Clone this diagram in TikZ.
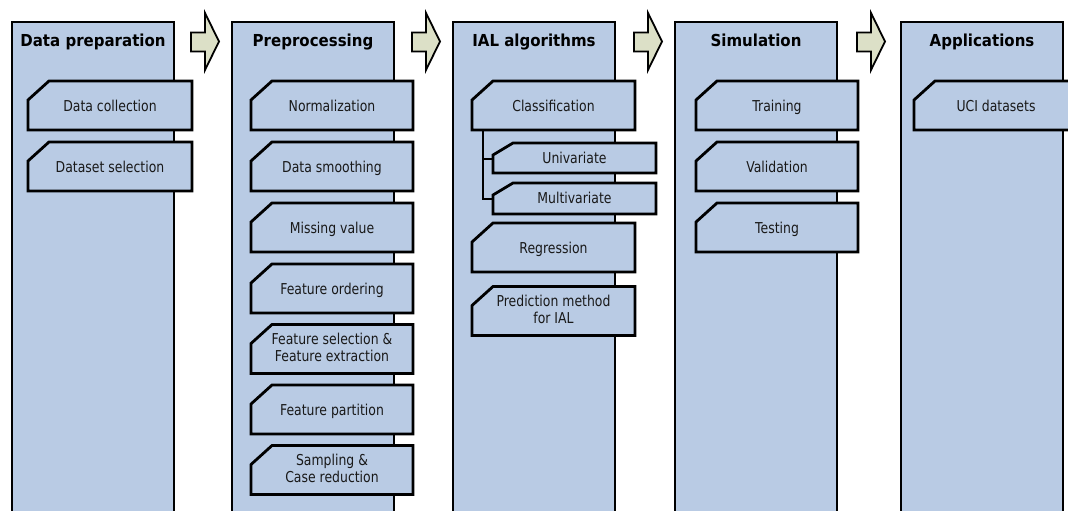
\documentclass[tikz,border=0pt]{standalone}
\usepackage{fontspec}
\setmainfont{DejaVu Sans}[FakeStretch=0.83]
\newfontfamily\headfont{DejaVu Sans}[FakeStretch=0.91]

\definecolor{panelblue}{RGB}{185,203,228}
\definecolor{flowgreen}{RGB}{220,224,199}
\definecolor{inktext}{RGB}{25,25,25}

\tikzset{
  panel/.style={draw=black, line width=2.8pt, fill=panelblue},
  itembox/.style={draw=black, line width=2.8pt, fill=panelblue, line join=miter},
  itemtext/.style={font=\fontsize{15}{17}\selectfont, text=inktext, align=center, inner sep=0pt},
  headtext/.style={font=\headfont\bfseries\fontsize{16.5}{19}\selectfont, anchor=base, inner sep=0pt},
  flow/.style={draw=black, line width=1.8pt, fill=flowgreen, line join=miter},
  branch/.style={draw=black, line width=2pt},
}

% stage column: name, left x, title
\newcommand\stagecol[3]{%
  \path[panel] (#2,22) rectangle ++(162,520);
  \node[headtext] (#1) at (#2+81,47) {#3};
}

% item box with a cut top-left corner:
% [node options], name, left, top, width, height, cut x, cut y, text
\newcommand\chambox[9][anchor=base,yshift=-5.5pt]{%
  \path[itembox] (#3,#4+#8) -- (#3+#7,#4) -- (#3+#5,#4) -- (#3+#5,#4+#6)
    -- (#3,#4+#6) -- cycle;
  \node[itemtext,#1] (#2) at (#3+#5/2,#4+#6/2) {#9};
}

% block arrow between stages: name, left x
\newcommand\flowarrow[2]{%
  \path[flow] (#2,32.5) -- (#2+14,32.5) -- (#2+14,13) -- (#2+28,41.5)
    -- (#2+14,70) -- (#2+14,51.5) -- (#2,51.5) -- cycle;
  \coordinate (#1) at (#2+14,41.5);
}

\begin{document}
\begin{tikzpicture}[x=1pt,y=-1pt]
  \useasboundingbox (0,0) rectangle (1068,511);
  \clip (0,0) rectangle (1068,511);

  % stage columns
  \stagecol{prep}{12}{Data preparation}
  \stagecol{pre}{232}{Preprocessing}
  \stagecol{alg}{453}{IAL algorithms}
  \stagecol{sim}{675}{Simulation}
  \stagecol{app}{901}{Applications}

  % arrows between stages
  \flowarrow{a1}{191}
  \flowarrow{a2}{412}
  \flowarrow{a3}{634}
  \flowarrow{a4}{857}

  % data preparation
  \chambox{dcol}{28}{81}{164}{49}{21}{19}{Data collection}
  \chambox{dsel}{28}{142}{164}{49}{21}{19}{Dataset selection}

  % preprocessing
  \chambox{norm}{251}{81}{162}{49}{21}{19}{Normalization}
  \chambox{smooth}{251}{142}{162}{49}{21}{19}{Data smoothing}
  \chambox{miss}{251}{203}{162}{49}{21}{19}{Missing value}
  \chambox{ford}{251}{264}{162}{49}{21}{19}{Feature ordering}
  \chambox[anchor=center,yshift=2pt]{fsel}{251}{324.5}{162}{49}{21}{19}{Feature selection \&\\Feature extraction}
  \chambox{fpart}{251}{385}{162}{49}{21}{19}{Feature partition}
  \chambox[anchor=center,yshift=2pt]{samp}{251}{445.5}{162}{49}{21}{19}{Sampling \&\\Case reduction}

  % IAL algorithms
  \coordinate (stem) at (483,129);
  \coordinate (uni-in) at (493,159);
  \coordinate (multi-in) at (493,199);
  \draw[branch] (stem) |- (multi-in);
  \draw[branch] (stem |- uni-in) -- (uni-in);
  \chambox{cls}{472}{81}{163}{49}{21}{19}{Classification}
  \chambox[anchor=base,yshift=-5pt]{uni}{493}{143}{163}{30}{20}{12}{Univariate}
  \chambox[anchor=base,yshift=-5pt]{multi}{493}{183}{163}{31}{20}{12}{Multivariate}
  \chambox{reg}{472}{223}{163}{49}{21}{19}{Regression}
  \chambox[anchor=center,yshift=2pt]{pred}{472}{286.5}{163}{49}{21}{19}{Prediction method\\for IAL}

  % simulation
  \chambox{train}{696}{81}{162}{49}{21}{19}{Training}
  \chambox{valid}{696}{142}{162}{49}{21}{19}{Validation}
  \chambox{test}{696}{203}{162}{49}{21}{19}{Testing}

  % applications
  \chambox{uci}{914}{81}{164}{49}{21}{19}{UCI datasets}
\end{tikzpicture}
\end{document}
